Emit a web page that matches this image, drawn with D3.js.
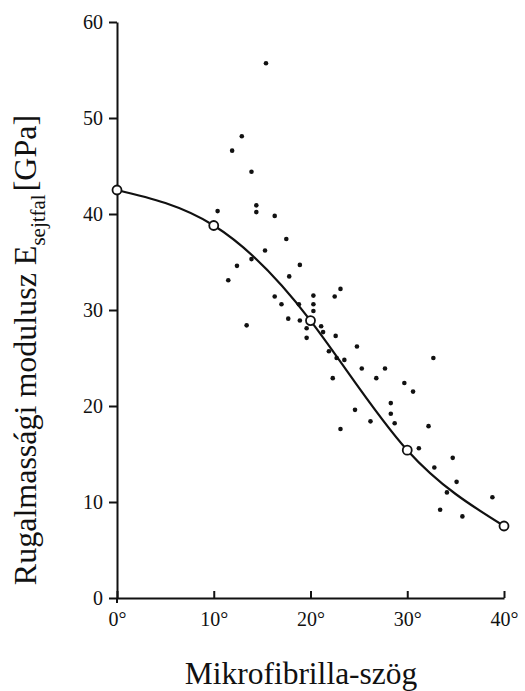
<!DOCTYPE html>
<html>
<head>
<meta charset="utf-8">
<script src="https://cdn.jsdelivr.net/npm/d3@7/dist/d3.min.js"></script>
<style>
  html, body { margin: 0; padding: 0; background: #fff; }
  svg { display: block; }
</style>
</head>
<body>
<svg id="chart" width="525" height="691"></svg>
<script>
// Microfibril angle (degrees) vs. cell-wall elastic modulus (GPa)

// Fitted curve: node points shown as open circles
const curveAngles = [0, 10, 20, 30, 40];
const curveModulus = [42.5, 38.8, 28.9, 15.4, 7.5];

// Measured samples
const sampleAngles = [
  15.4, 12.9, 11.9, 13.9, 14.4, 14.4, 16.3, 10.4,
  17.5, 15.3, 13.9, 12.4, 11.5, 18.9, 17.8, 23.1, 22.5, 20.3, 20.3, 20.3,
  16.3, 17.0, 18.8, 17.7, 18.9, 13.4, 19.6, 21.1, 21.3, 19.6, 22.6, 21.9,
  22.7, 23.5, 22.3,
  24.8, 25.3, 27.7, 26.8, 32.7, 29.7, 30.6, 28.3, 28.3, 28.7, 24.6, 26.2,
  23.1, 32.2, 31.2, 34.7, 32.8, 35.1, 34.1, 38.8, 33.4, 35.7
];
const sampleModulus = [
  55.7, 48.1, 46.6, 44.4, 40.9, 40.2, 39.8, 40.3,
  37.4, 36.2, 35.3, 34.6, 33.1, 34.7, 33.5, 32.2, 31.4, 31.5, 30.6, 29.9,
  31.4, 30.6, 30.6, 29.1, 28.9, 28.4, 28.1, 28.3, 27.7, 27.1, 27.3, 25.7,
  25.0, 24.8, 22.9,
  26.2, 23.9, 23.9, 22.9, 25.0, 22.4, 21.5, 20.3, 19.2, 18.2, 19.6, 18.4,
  17.6, 17.9, 15.6, 14.6, 13.6, 12.1, 11.0, 10.5, 9.2, 8.5
];

const xTicks = [0, 10, 20, 30, 40];
const yTicks = [0, 10, 20, 30, 40, 50, 60];

const xTitle = "Mikrofibrilla-szög";
const yTitleMain = "Rugalmassági modulusz E";
const yTitleSub = "sejtfal";
const yTitleUnit = "[GPa]";

const svg = d3.select("#chart");
const serif = "'Liberation Serif', 'Times New Roman', serif";

const x = d3.scaleLinear().domain([0, 40]).range([117, 504]);
const y = d3.scaleLinear().domain([0, 60]).range([598, 22]);

// Axes
const xAxis = d3.axisBottom(x)
  .tickValues(xTicks)
  .tickSizeInner(-7)
  .tickSizeOuter(0)
  .tickPadding(19)
  .tickFormat(d => d + "°");

const yAxis = d3.axisLeft(y)
  .tickValues(yTicks)
  .tickSizeInner(8)
  .tickSizeOuter(0)
  .tickPadding(6)
  .tickFormat(d3.format("d"));

const gx = svg.append("g")
  .attr("transform", `translate(0,${y(0)})`)
  .call(xAxis);

const gy = svg.append("g")
  .attr("transform", `translate(${x(0)},0)`)
  .call(yAxis);

[gx, gy].forEach(g => {
  g.select(".domain").attr("stroke", "#111").attr("stroke-width", 2);
  g.selectAll(".tick line").attr("stroke", "#111").attr("stroke-width", 2);
  g.selectAll(".tick text")
    .attr("fill", "#111")
    .style("font-family", serif)
    .style("font-size", "20px");
});
gx.selectAll(".tick text").attr("dy", "0.45em");

// short extension of the y axis below the origin
svg.append("line")
  .attr("x1", x(0)).attr("x2", x(0))
  .attr("y1", y(0)).attr("y2", y(0) + 5)
  .attr("stroke", "#111").attr("stroke-width", 2);

// Samples
svg.append("g")
  .selectAll("circle")
  .data(sampleAngles.map((a, i) => [a, sampleModulus[i]]))
  .join("circle")
  .attr("cx", d => x(d[0]))
  .attr("cy", d => y(d[1]))
  .attr("r", 2.3)
  .attr("fill", "#111");

// Fitted curve
const curvePts = curveAngles.map((a, i) => [a, curveModulus[i]]);
svg.append("path")
  .datum(curvePts)
  .attr("fill", "none")
  .attr("stroke", "#111")
  .attr("stroke-width", 2.2)
  .attr("d", d3.line()
    .x(d => x(d[0]))
    .y(d => y(d[1]))
    .curve(d3.curveNatural));

svg.append("g")
  .selectAll("circle")
  .data(curvePts)
  .join("circle")
  .attr("cx", d => x(d[0]))
  .attr("cy", d => y(d[1]))
  .attr("r", 4.5)
  .attr("fill", "#fff")
  .attr("stroke", "#111")
  .attr("stroke-width", 1.8);

// Axis titles
svg.append("text")
  .attr("x", 301)
  .attr("y", 684)
  .attr("text-anchor", "middle")
  .attr("fill", "#111")
  .style("font-family", serif)
  .style("font-size", "31.5px")
  .text(xTitle);

const yt = svg.append("text")
  .attr("transform", "translate(36,350) rotate(-90)")
  .attr("text-anchor", "middle")
  .attr("fill", "#111")
  .style("font-family", serif)
  .style("font-size", "32px");
yt.append("tspan").text(yTitleMain);
yt.append("tspan").attr("dy", 9).style("font-size", "21px").text(yTitleSub);
yt.append("tspan").attr("dy", -9).attr("dx", 3).text(yTitleUnit);
</script>
</body>
</html>
